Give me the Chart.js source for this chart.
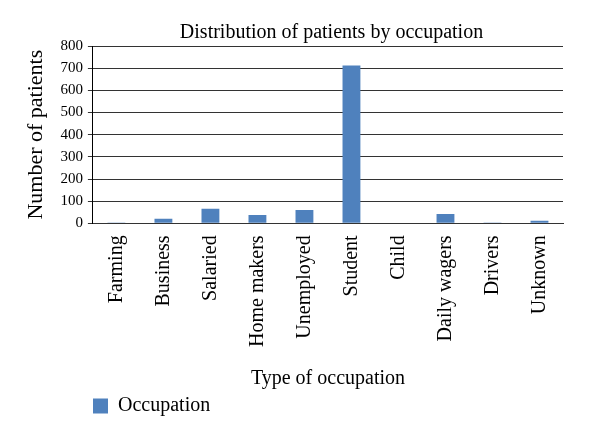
<!DOCTYPE html>
<html>
<head>
<meta charset="utf-8">
<script src="https://cdn.jsdelivr.net/npm/chart.js@4"></script>
<style>
  html, body { margin: 0; padding: 0; background: #fff; }
  #wrap { width: 600px; height: 437px; }
</style>
</head>
<body>
<div id="wrap"><canvas id="chartOccupation"></canvas></div>
<script>
const occupations = ["Farming", "Business", "Salaried", "Home makers", "Unemployed",
  "Student", "Child", "Daily wagers", "Drivers", "Unknown"];
const patients = [4, 21, 66, 38, 60, 712, 3, 42, 4, 12];
const yTicks = [0, 100, 200, 300, 400, 500, 600, 700, 800];

const serif = "'Liberation Serif', 'DejaVu Serif', serif";

// nudge legend and title over the plot area, like the original
const shiftBoxes = {
  id: "shiftBoxes",
  afterLayout: (chart) => {
    if (chart.legend) chart.legend.left += 72;
    if (chart.titleBlock) {
      chart.titleBlock.left += 42;
      chart.titleBlock.right += 42;
    }
  }
};

const data = {
  labels: occupations,
  datasets: [
    {
      label: "Occupation",
      backgroundColor: "#4f81bd",
      borderColor: "#4f81bd",
      data: patients,
      categoryPercentage: 1,
      barPercentage: 0.38
    }
  ]
};

const config = {
  type: "bar",
  data: data,
  plugins: [shiftBoxes],
  options: {
    responsive: true,
    maintainAspectRatio: false,
    animation: false,
    layout: { padding: { left: 16, right: 37, top: 4, bottom: 11 } },
    plugins: {
      title: {
        display: true,
        text: "Distribution of patients by occupation",
        color: "#000",
        font: { family: serif, size: 20, weight: "normal" },
        padding: { top: 17, bottom: 1 }
      },
      legend: {
        position: "bottom",
        align: "start",
        labels: {
          color: "#000",
          font: { family: serif, size: 20 },
          boxWidth: 15,
          boxHeight: 15,
          padding: 5
        }
      },
      tooltip: { enabled: false }
    },
    scales: {
      x: {
        grid: { display: false },
        border: { color: "#333", width: 1 },
        ticks: {
          color: "#000",
          font: { family: serif, size: 20 },
          minRotation: 90,
          maxRotation: 90,
          autoSkip: false,
          padding: 4
        },
        title: {
          display: true,
          text: "Type of occupation",
          color: "#000",
          font: { family: serif, size: 20 },
          padding: { top: 16, bottom: 0 }
        }
      },
      y: {
        min: 0,
        max: 800,
        afterBuildTicks: (axis) => { axis.ticks = yTicks.map(v => ({ value: v })); },
        grid: { color: "#333", lineWidth: 1, tickLength: 5 },
        border: { color: "#000", width: 1 },
        ticks: {
          color: "#000",
          font: { family: serif, size: 15 },
          padding: 5
        },
        title: {
          display: true,
          text: "Number of patients",
          color: "#000",
          font: { family: serif, size: 22 },
          padding: { top: 7, bottom: 6 }
        }
      }
    }
  }
};

const myChart = new Chart(document.getElementById("chartOccupation"), config);
</script>
</body>
</html>
